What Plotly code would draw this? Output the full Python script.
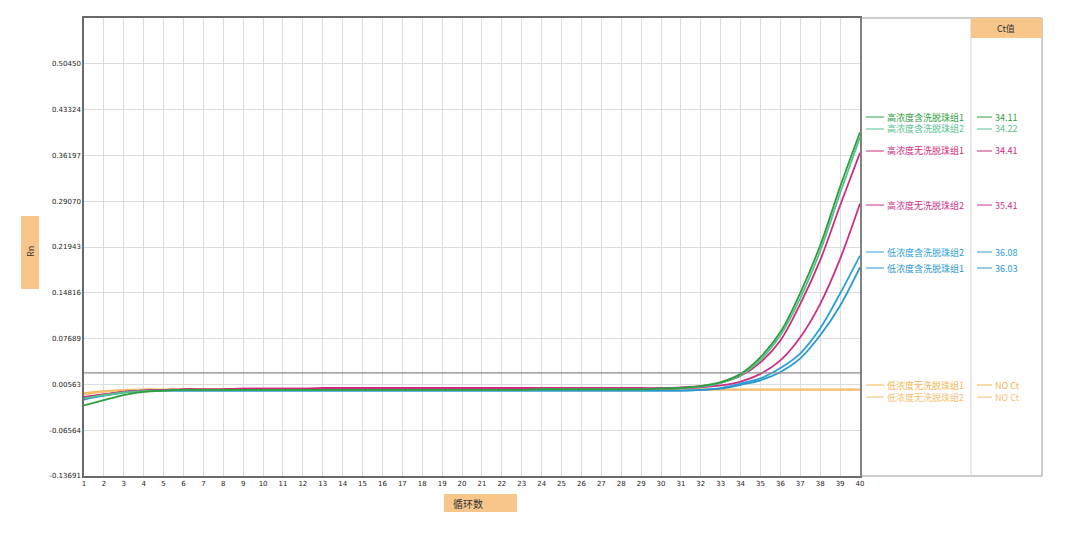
import plotly.graph_objects as go

cycles = list(range(1, 41))

# Rn values per cycle
g1 = [-0.027, -0.019, -0.011, -0.006, -0.004, -0.003, -0.003, -0.003, -0.003, -0.003,
      -0.003, -0.003, -0.003, -0.003, -0.003, -0.003, -0.003, -0.003, -0.003, -0.003,
      -0.003, -0.003, -0.003, -0.002, -0.002, -0.002, -0.002, -0.002, -0.002, -0.001,
      0.000, 0.003, 0.009, 0.022, 0.048, 0.087, 0.148, 0.222, 0.313, 0.398]
g2 = [-0.016, -0.011, -0.007, -0.005, -0.004, -0.003, -0.003, -0.003, -0.003, -0.003,
      -0.003, -0.003, -0.003, -0.003, -0.003, -0.003, -0.003, -0.003, -0.003, -0.003,
      -0.003, -0.003, -0.003, -0.002, -0.002, -0.002, -0.002, -0.002, -0.002, -0.001,
      0.000, 0.002, 0.008, 0.020, 0.044, 0.082, 0.140, 0.213, 0.303, 0.390]
m1 = [-0.014, -0.010, -0.006, -0.004, -0.003, -0.002, -0.002, -0.002, -0.001, -0.001,
      -0.001, -0.001, 0.000, 0.000, 0.000, 0.000, 0.000, 0.000, 0.000, 0.000,
      0.000, 0.000, 0.000, 0.000, 0.000, 0.000, 0.000, 0.000, 0.000, 0.000,
      0.001, 0.003, 0.008, 0.019, 0.040, 0.074, 0.131, 0.199, 0.284, 0.366]
m2 = [-0.015, -0.010, -0.006, -0.004, -0.003, -0.002, -0.002, -0.002, -0.001, -0.001,
      -0.001, -0.001, -0.001, -0.001, -0.001, -0.001, -0.001, -0.001, -0.001, -0.001,
      -0.001, -0.001, -0.001, -0.001, -0.001, -0.001, -0.001, -0.001, -0.001, -0.001,
      0.000, 0.001, 0.004, 0.010, 0.022, 0.043, 0.079, 0.131, 0.201, 0.287]
b2 = [-0.016, -0.011, -0.006, -0.004, -0.004, -0.004, -0.004, -0.004, -0.004, -0.004,
      -0.004, -0.004, -0.004, -0.004, -0.004, -0.004, -0.004, -0.004, -0.004, -0.004,
      -0.004, -0.004, -0.004, -0.004, -0.004, -0.004, -0.004, -0.004, -0.004, -0.004,
      -0.004, -0.003, 0.000, 0.007, 0.015, 0.031, 0.054, 0.093, 0.147, 0.206]
b1 = [-0.018, -0.012, -0.007, -0.005, -0.004, -0.004, -0.004, -0.004, -0.004, -0.004,
      -0.004, -0.004, -0.004, -0.004, -0.004, -0.004, -0.004, -0.004, -0.004, -0.004,
      -0.004, -0.004, -0.004, -0.004, -0.004, -0.004, -0.004, -0.004, -0.004, -0.004,
      -0.004, -0.003, -0.001, 0.005, 0.012, 0.025, 0.046, 0.082, 0.128, 0.188]
o1 = [-0.008, -0.005, -0.003, -0.002, -0.002, -0.002, -0.002, -0.002, -0.002, -0.002,
      -0.002, -0.002, -0.002, -0.002, -0.002, -0.002, -0.002, -0.002, -0.002, -0.002,
      -0.002, -0.002, -0.002, -0.002, -0.002, -0.002, -0.002, -0.002, -0.002, -0.002,
      -0.002, -0.002, -0.002, -0.002, -0.002, -0.002, -0.002, -0.002, -0.002, -0.002]
o2 = [-0.010, -0.006, -0.004, -0.003, -0.003, -0.003, -0.003, -0.003, -0.003, -0.003,
      -0.003, -0.003, -0.003, -0.003, -0.003, -0.003, -0.003, -0.003, -0.003, -0.003,
      -0.003, -0.003, -0.003, -0.003, -0.003, -0.003, -0.003, -0.003, -0.003, -0.003,
      -0.003, -0.003, -0.003, -0.003, -0.003, -0.003, -0.003, -0.003, -0.003, -0.003]

names = ["高浓度含洗脱珠组1", "高浓度含洗脱珠组2", "高浓度无洗脱珠组1", "高浓度无洗脱珠组2",
         "低浓度含洗脱珠组2", "低浓度含洗脱珠组1", "低浓度无洗脱珠组1", "低浓度无洗脱珠组2"]
ct_values = ["34.11", "34.22", "34.41", "35.41", "36.08", "36.03", "NO Ct", "NO Ct"]
series = [g1, g2, m1, m2, b2, b1, o1, o2]
colors = ["#2e9e3e", "#56c28f", "#d12a7c", "#cc2f86", "#2aa0dc", "#2b97cf", "#f5b552", "#f7c070"]
legend_px_y = [117, 129, 151, 205, 252, 268, 385, 397]

threshold = 0.0235
y_ticks = [-0.13691, -0.06564, 0.00563, 0.07689, 0.14816, 0.21943, 0.29070, 0.36197, 0.43324, 0.50450]
y_ticktext = ["%.5f" % v for v in y_ticks]
y_range = [-0.13691, 0.57577]

# layout geometry (page pixels); the page body adds an 8px offset
OFF = 8
FW, FH = 1072, 529
L, R, T, B = 84, 860, 18, 476
W, H = R - L, B - T


def px(x):
    return (x - L) / W


def py(y):
    return (B - y) / H


fig = go.Figure()
draw_order = [6, 7, 4, 5, 3, 2, 1, 0]
for i in draw_order:
    fig.add_trace(go.Scatter(x=cycles, y=series[i], mode="lines", name=names[i],
                             line=dict(color=colors[i], width=1.8, shape="spline"),
                             showlegend=False, hoverinfo="x+y+name"))

shapes = []
shapes.append(dict(type="line", xref="x", yref="y", x0=1, x1=40, y0=threshold, y1=threshold,
                   line=dict(color="#8a8a8a", width=1.2)))
shapes.append(dict(type="rect", xref="paper", yref="paper", x0=px(861), x1=px(1042), y0=0, y1=1,
                   line=dict(color="#9a9a9a", width=1), fillcolor="rgba(0,0,0,0)"))
shapes.append(dict(type="line", xref="paper", yref="paper", x0=px(971), x1=px(971), y0=0, y1=1,
                   line=dict(color="#d0d0d0", width=1)))
shapes.append(dict(type="rect", xref="paper", yref="paper", x0=px(971), x1=px(1042), y0=py(38), y1=1,
                   line=dict(width=0), fillcolor="#f8c68a"))
shapes.append(dict(type="rect", xref="paper", yref="paper", x0=px(21), x1=px(39), y0=py(289), y1=py(216),
                   line=dict(width=0), fillcolor="#f8c68a"))
shapes.append(dict(type="rect", xref="paper", yref="paper", x0=px(444), x1=px(517), y0=py(512), y1=py(494),
                   line=dict(width=0), fillcolor="#f8c68a"))

annotations = []
cjk = "Noto Sans CJK SC"
for i in range(len(names)):
    yy = py(legend_px_y[i])
    shapes.append(dict(type="line", xref="paper", yref="paper", x0=px(866), x1=px(884), y0=yy, y1=yy,
                       line=dict(color=colors[i], width=1)))
    shapes.append(dict(type="line", xref="paper", yref="paper", x0=px(977), x1=px(992), y0=yy, y1=yy,
                       line=dict(color=colors[i], width=1)))
    annotations.append(dict(xref="paper", yref="paper", x=px(886), y=yy, text=names[i], showarrow=False,
                            xanchor="left", yanchor="middle", borderpad=0,
                            font=dict(family=cjk, size=9, color=colors[i])))
    annotations.append(dict(xref="paper", yref="paper", x=px(994), y=yy, text=ct_values[i], showarrow=False,
                            xanchor="left", yanchor="middle", borderpad=0,
                            font=dict(family=cjk, size=9, color=colors[i])))

annotations.append(dict(xref="paper", yref="paper", x=px(1006), y=py(28), text="Ct值", showarrow=False,
                        xanchor="center", yanchor="middle", font=dict(family=cjk, size=9, color="#333")))
annotations.append(dict(xref="paper", yref="paper", x=px(30), y=py(252), text="Rn", showarrow=False,
                        textangle=-90, xanchor="center", yanchor="middle",
                        font=dict(family=cjk, size=9, color="#333")))
annotations.append(dict(xref="paper", yref="paper", x=px(451), y=py(503), text="循环数", showarrow=False,
                        xanchor="left", yanchor="middle", font=dict(family=cjk, size=10, color="#333")))

fig.update_layout(
    width=FW, height=FH,
    margin=dict(l=L - OFF, r=FW - (R - OFF), t=T - OFF, b=FH - (B - OFF), autoexpand=False),
    paper_bgcolor="white", plot_bgcolor="white",
    shapes=shapes, annotations=annotations,
    xaxis=dict(range=[1, 40], tickmode="array", tickvals=cycles, ticktext=[str(c) for c in cycles],
               showgrid=True, gridcolor="#dcdcdc", gridwidth=1, zeroline=False,
               showline=True, linecolor="#6a6a6a", linewidth=1.5, mirror=True,
               ticks="", tickfont=dict(family="DejaVu Sans", size=7, color="#222")),
    yaxis=dict(range=y_range, tickmode="array", tickvals=y_ticks, ticktext=y_ticktext,
               showgrid=True, gridcolor="#dcdcdc", gridwidth=1, zeroline=False,
               showline=True, linecolor="#6a6a6a", linewidth=1.5, mirror=True,
               ticks="", tickfont=dict(family="DejaVu Sans", size=7, color="#222")),
)

fig.write_html("out.html")
